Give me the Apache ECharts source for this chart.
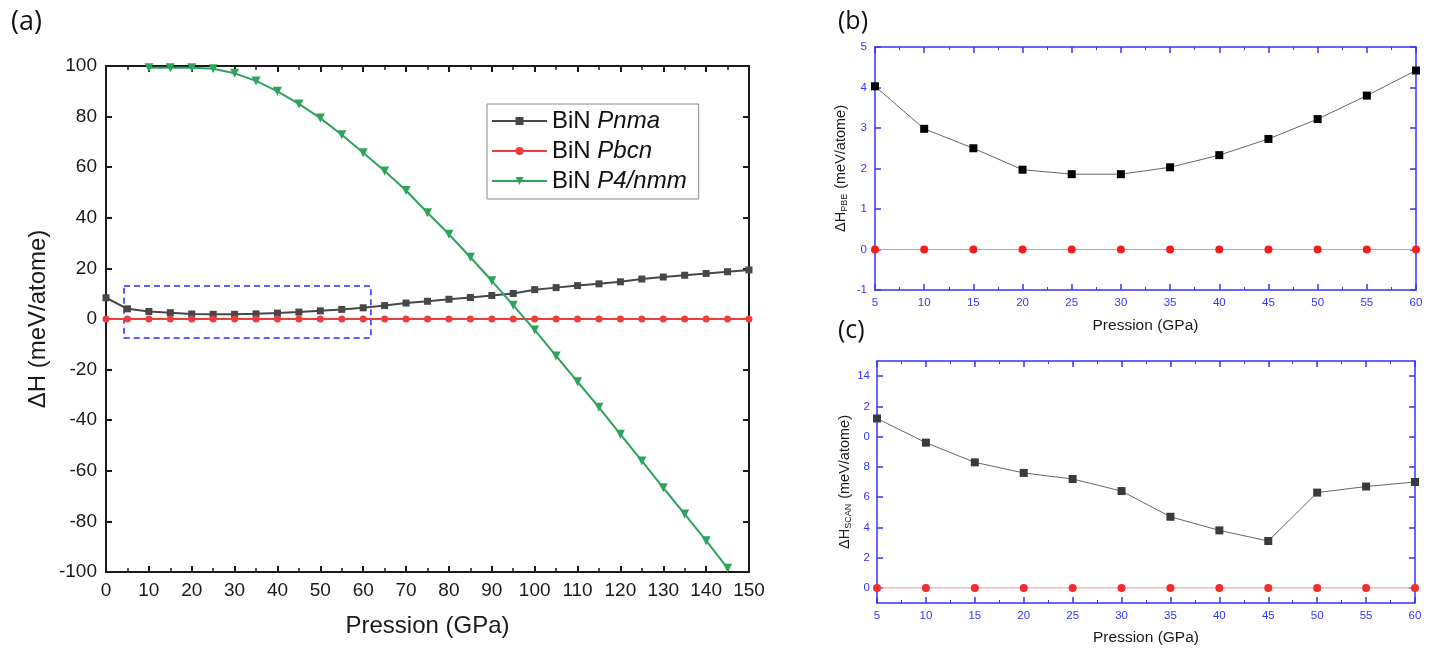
<!DOCTYPE html>
<html>
<head>
<meta charset="utf-8">
<script src="https://cdn.jsdelivr.net/npm/echarts@6/dist/echarts.min.js"></script>
<style>
html,body{margin:0;padding:0;background:#fff;}
#chart{width:1440px;height:648px;}
</style>
</head>
<body>
<div id="chart"></div>
<script>
// ---- Panel (a) data ----
const pressA = [0,5,10,15,20,25,30,35,40,45,50,55,60,65,70,75,80,85,90,95,100,105,110,115,120,125,130,135,140,145,150];
const pnmaA = [8.4,4.03,2.98,2.5,1.97,1.86,1.86,2.03,2.33,2.73,3.22,3.8,4.42,5.3,6.3,7.0,7.8,8.5,9.3,10.1,11.6,12.4,13.2,13.9,14.7,15.8,16.6,17.3,18.0,18.7,19.4];
const pbcnA = [0,0,0,0,0,0,0,0,0,0,0,0,0,0,0,0,0,0,0,0,0,0,0,0,0,0,0,0,0,0,0];
const pressP4 = [10,15,20,25,30,35,40,45,50,55,60,65,70,75,80,85,90,95,100,105,110,115,120,125,130,135,140,145];
const p4nmmA = [99.3,99.3,99.3,98.9,97.1,94.1,90.0,85.0,79.4,72.8,65.7,58.5,50.8,42.0,33.5,24.4,15.1,5.4,-4.3,-14.6,-24.8,-34.9,-45.6,-56.1,-66.7,-77.1,-87.6,-98.5];
const zoomBox = [4.2, 61.8, -7.5, 13.0]; // x0, x1, y0, y1 (data units)

// ---- Panel (b) data (PBE) ----
const pressB = [5,10,15,20,25,30,35,40,45,50,55,60];
const pnmaPBE = [4.03,2.98,2.5,1.97,1.86,1.86,2.03,2.33,2.73,3.22,3.8,4.42];
const pbcnPBE = [0,0,0,0,0,0,0,0,0,0,0,0];

// ---- Panel (c) data (SCAN) ----
const pressC = [5,10,15,20,25,30,35,40,45,50,55,60];
const pnmaSCAN = [11.2,9.6,8.3,7.6,7.2,6.4,4.7,3.8,3.1,6.3,6.7,7.0];
const pbcnSCAN = [0,0,0,0,0,0,0,0,0,0,0,0];
const yTicksC = [0,2,4,6,8,10,12,14];
const yLabelsC = ['0','2','4','6','8','0','2','14'];

const zip = (xs, ys) => xs.map((x, i) => [x, ys[i]]);

const BLK = '#1a1a1a';
const BLUE = '#3434ff';
const FONT = '"Liberation Sans", Arial, sans-serif';

function axisCommon(color, lw, labelSize, showLabel, margin) {
  return {
    axisLine: {show: true, onZero: false, lineStyle: {color: color, width: lw}},
    axisTick: {show: true, inside: true, length: 6, lineStyle: {color: color, width: lw}},
    axisLabel: {show: showLabel, color: color, fontSize: labelSize, fontFamily: FONT, margin: margin},
    splitLine: {show: false}
  };
}

const chart = echarts.init(document.getElementById('chart'));

const xAxes = [
  Object.assign({type:'value', gridIndex:0, position:'bottom', min:0, max:150, interval:10,
    name:'Pression (GPa)', nameLocation:'middle', nameGap:42,
    nameTextStyle:{fontSize:24, color:BLK, fontFamily:FONT},
    minorTick:{show:true, splitNumber:2, length:4, lineStyle:{color:BLK, width:1.5}}
  }, axisCommon(BLK, 2, 19, true, 9)),
  Object.assign({type:'value', gridIndex:0, position:'top', min:0, max:150, interval:10,
    minorTick:{show:true, splitNumber:2, length:4, lineStyle:{color:BLK, width:1.5}}
  }, axisCommon(BLK, 2, 19, false, 8)),
  Object.assign({type:'value', gridIndex:1, position:'bottom', min:5, max:60, interval:5,
    name:'Pression (GPa)', nameLocation:'middle', nameGap:28,
    nameTextStyle:{fontSize:15.5, color:BLK, fontFamily:FONT},
    minorTick:{show:true, splitNumber:2, length:3, lineStyle:{color:BLUE, width:1}}
  }, axisCommon(BLUE, 1.5, 11.5, true, 7)),
  Object.assign({type:'value', gridIndex:1, position:'top', min:5, max:60, interval:5,
    minorTick:{show:true, splitNumber:2, length:3, lineStyle:{color:BLUE, width:1}}
  }, axisCommon(BLUE, 1.5, 11.5, false, 6)),
  Object.assign({type:'value', gridIndex:2, position:'bottom', min:5, max:60, interval:5,
    name:'Pression (GPa)', nameLocation:'middle', nameGap:27,
    nameTextStyle:{fontSize:15.5, color:BLK, fontFamily:FONT},
    minorTick:{show:true, splitNumber:2, length:3, lineStyle:{color:BLUE, width:1}}
  }, axisCommon(BLUE, 1.5, 11.5, true, 7)),
  Object.assign({type:'value', gridIndex:2, position:'top', min:5, max:60, interval:5,
    minorTick:{show:true, splitNumber:2, length:3, lineStyle:{color:BLUE, width:1}}
  }, axisCommon(BLUE, 1.5, 11.5, false, 6))
];

const yC = axisCommon(BLUE, 1.5, 11.5, true, 7);
yC.axisLabel.customValues = yTicksC;
yC.axisLabel.formatter = v => yLabelsC[yTicksC.indexOf(v)];
yC.axisTick.customValues = yTicksC;
const yCr = axisCommon(BLUE, 1.5, 11.5, false, 5);
yCr.axisTick.customValues = yTicksC;

const subRich = {
  a:{fontSize:14.5, color:BLK, fontFamily:FONT},
  s:{fontSize:9, color:BLK, fontFamily:FONT, verticalAlign:'bottom', padding:[7,1,0,0]}
};

const yAxes = [
  Object.assign({type:'value', gridIndex:0, position:'left', min:-100, max:100, interval:20,
    name:'ΔH (meV/atome)', nameLocation:'middle', nameGap:56,
    nameTextStyle:{fontSize:24, color:BLK, fontFamily:FONT}
  }, axisCommon(BLK, 2, 19, true, 9)),
  Object.assign({type:'value', gridIndex:0, position:'right', min:-100, max:100, interval:20
  }, axisCommon(BLK, 2, 19, false, 8)),
  Object.assign({type:'value', gridIndex:1, position:'left', min:-1, max:5, interval:1,
    name:'{a|ΔH}{s|PBE}{a| (meV/atome)}', nameLocation:'middle', nameGap:26,
    nameTextStyle:{color:BLK, fontFamily:FONT, rich:subRich}
  }, axisCommon(BLUE, 1.5, 11.5, true, 8)),
  Object.assign({type:'value', gridIndex:1, position:'right', min:-1, max:5, interval:1
  }, axisCommon(BLUE, 1.5, 11.5, false, 5)),
  Object.assign({type:'value', gridIndex:2, position:'left', min:-1, max:15,
    name:'{a|ΔH}{s|SCAN}{a| (meV/atome)}', nameLocation:'middle', nameGap:20,
    nameTextStyle:{color:BLK, fontFamily:FONT, rich:subRich}
  }, yC),
  Object.assign({type:'value', gridIndex:2, position:'right', min:-1, max:15
  }, yCr)
];

const GRAY = '#474747', RED = '#f03c3c', GREEN = '#2ea35c';
const TFONT = '"Open Sans", "Noto Sans", sans-serif';

const option = {
  animation: false,
  backgroundColor: '#fff',
  title: [
    {text:'(a)', left:6, top:4, textStyle:{fontSize:27, fontWeight:'normal', color:'#111', fontFamily:TFONT}},
    {text:'(b)', left:833, top:4, textStyle:{fontSize:25, fontWeight:'normal', color:'#111', fontFamily:TFONT}},
    {text:'(c)', left:833, top:313, textStyle:{fontSize:25, fontWeight:'normal', color:'#111', fontFamily:TFONT}}
  ],
  grid: [
    {left:106, top:66, width:643, height:506},
    {left:875, top:47, width:541, height:243},
    {left:877, top:361, width:538, height:242}
  ],
  xAxis: xAxes,
  yAxis: yAxes,
  legend: {
    data: ['BiN Pnma','BiN Pbcn','BiN P4/nmm'],
    orient: 'vertical',
    left: 487, top: 104,
    padding: [5, 12, 6, 4],
    itemGap: 6,
    itemWidth: 55, itemHeight: 10,
    borderColor: '#8a8a8a', borderWidth: 1,
    backgroundColor: '#fff',
    formatter: name => '{n|BiN }{i|' + name.split(' ')[1] + '}',
    textStyle: {fontSize:24, color:'#111', fontFamily:FONT, rich:{
      n:{fontSize:24, color:'#111', fontFamily:FONT},
      i:{fontSize:24, color:'#111', fontFamily:FONT, fontStyle:'italic'}}}
  },
  series: [
    {name:'BiN Pnma', type:'line', xAxisIndex:0, yAxisIndex:0, data: zip(pressA, pnmaA),
     symbol:'rect', symbolSize:7, lineStyle:{color:GRAY, width:2}, itemStyle:{color:GRAY},
     markArea:{silent:true, itemStyle:{color:'rgba(0,0,0,0)', borderColor:'#2b2bff', borderWidth:1.5, borderType:[6,4]},
       data:[[{coord:[zoomBox[0], zoomBox[3]]},{coord:[zoomBox[1], zoomBox[2]]}]]}},
    {name:'BiN Pbcn', type:'line', xAxisIndex:0, yAxisIndex:0, data: zip(pressA, pbcnA),
     symbol:'circle', symbolSize:7, lineStyle:{color:RED, width:2}, itemStyle:{color:RED}},
    {name:'BiN P4/nmm', type:'line', xAxisIndex:0, yAxisIndex:0, data: zip(pressP4, p4nmmA),
     symbol:'triangle', symbolRotate:180, symbolSize:9, lineStyle:{color:GREEN, width:2}, itemStyle:{color:GREEN}},
    {name:'PBE Pnma', type:'line', xAxisIndex:2, yAxisIndex:2, data: zip(pressB, pnmaPBE),
     symbol:'rect', symbolSize:8, lineStyle:{color:'#666', width:1}, itemStyle:{color:'#000'}},
    {name:'PBE Pbcn', type:'line', xAxisIndex:2, yAxisIndex:2, data: zip(pressB, pbcnPBE),
     symbol:'circle', symbolSize:8, lineStyle:{color:'#ff8c8c', width:1}, itemStyle:{color:'#f51c1c'}},
    {name:'SCAN Pnma', type:'line', xAxisIndex:4, yAxisIndex:4, data: zip(pressC, pnmaSCAN),
     symbol:'rect', symbolSize:8, lineStyle:{color:'#666', width:1}, itemStyle:{color:'#3a3a3a'}},
    {name:'SCAN Pbcn', type:'line', xAxisIndex:4, yAxisIndex:4, data: zip(pressC, pbcnSCAN),
     symbol:'circle', symbolSize:8, lineStyle:{color:'#ff8c8c', width:1}, itemStyle:{color:'#f52c2c'}}
  ]
};
chart.setOption(option);
</script>
</body>
</html>
